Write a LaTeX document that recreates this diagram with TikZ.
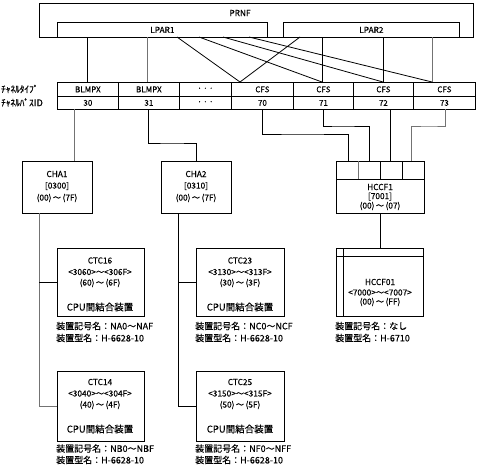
\documentclass[tikz,border=0pt]{standalone}
\usepackage{fontspec}
\setmainfont{Noto Sans CJK JP}[FakeBold=0.4]
\begin{document}
\begin{tikzpicture}[x=1pt,y=-1pt,
  ln/.style={line width=0.8pt},
  gln/.style={line width=0.8pt,draw=black!55},
  bx/.style={draw,line width=0.8pt,anchor=north west,inner sep=0pt},
  cell/.style={bx,minimum height=#1,font=\fontsize{8}{9}\selectfont},
  txt/.style={inner sep=0pt,font=\fontsize{8.3}{9}\selectfont},
  big/.style={inner sep=0pt,font=\fontsize{9.5}{10}\selectfont},
  lbl/.style={inner sep=0pt,anchor=west,font=\fontsize{9}{10}\selectfont},
  side/.style={inner sep=0pt,anchor=west,font=\fontsize{9.3}{10}\selectfont}]
\useasboundingbox (0,0) rectangle (479,472);

% PRNF and LPARs
\node[bx,minimum width=434pt,minimum height=34pt] (prnf) at (39,3) {};
\node[txt] (prnft) at (240,13) {PRNF};
\node[bx,minimum width=210pt,minimum height=15pt,font=\fontsize{8.3}{9}\selectfont] (lp1) at (57,22) {LPAR1};
\node[bx,minimum width=176pt,minimum height=15pt,font=\fontsize{8.3}{9}\selectfont] (lp2) at (283,22) {LPAR2};

% table
\node[side] (lt) at (1,89) {ﾁｬﾈﾙﾀｲﾌﾟ};
\node[side] (lp) at (1,102.5) {ﾁｬﾈﾙﾊﾟｽID};
\node[cell=14pt,minimum width=61pt] (t1) at (57,82) {BLMPX};
\node[cell=14pt,minimum width=61pt] (t2) at (118,82) {BLMPX};
\node[cell=14pt,minimum width=52pt] (t3) at (179,82) {·\,·\,·};
\node[cell=14pt,minimum width=62pt] (t4) at (231,82) {CFS};
\node[cell=14pt,minimum width=60pt] (t5) at (293,82) {CFS};
\node[cell=14pt,minimum width=60pt] (t6) at (353,82) {CFS};
\node[cell=14pt,minimum width=62pt] (t7) at (413,82) {CFS};
\node[cell=13pt,minimum width=61pt] (p1) at (57,96) {30};
\node[cell=13pt,minimum width=61pt] (p2) at (118,96) {31};
\node[cell=13pt,minimum width=52pt] (p3) at (179,96) {·\,·\,·};
\node[cell=13pt,minimum width=62pt] (p4) at (231,96) {70};
\node[cell=13pt,minimum width=60pt] (p5) at (293,96) {71};
\node[cell=13pt,minimum width=60pt] (p6) at (353,96) {72};
\node[cell=13pt,minimum width=62pt] (p7) at (413,96) {73};

% LPAR to table connectors
\coordinate (u1) at (87,37);  \coordinate (v1) at (87,82);
\coordinate (u2) at (147,37); \coordinate (v2) at (147,82);
\coordinate (u5) at (322,37); \coordinate (v5) at (322,82);
\coordinate (u6) at (383,37); \coordinate (v6) at (383,82);
\coordinate (u7) at (432,37); \coordinate (v7) at (432,82);
\coordinate (v4) at (240,82);
\coordinate (a1) at (177,37); \coordinate (a2) at (199,37);
\coordinate (a3) at (223,37); \coordinate (a4) at (249,37);
\coordinate (b1) at (300,37);
\draw[ln] (u1) -- (v1);
\draw[gln] (u2) -- (v2);
\draw[ln] (u5) -- (v5);
\draw[ln] (u6) -- (v6);
\draw[gln] (u7) -- (v7);
\draw[ln] (a1) -- (v4);
\draw[ln] (b1) -- (v4);
\draw[ln] (a2) -- (v5);
\draw[ln] (a3) -- (v6);
\draw[ln] (a4) -- (v7);

% CHA / HCCF boxes
\node[bx,minimum width=70pt,minimum height=52pt] (cha1) at (22,161) {};
\node[txt] (cha1a) at (57,174) {CHA1};
\node[txt] (cha1b) at (57,186) {[0300]};
\node[txt] (cha1c) at (57,198) {(00)\,～\,(7F)};
\node[bx,minimum width=70pt,minimum height=52pt] (cha2) at (161,161) {};
\node[txt] (cha2a) at (196,174) {CHA2};
\node[txt] (cha2b) at (196,186) {[0310]};
\node[txt] (cha2c) at (196,198) {(00)\,～\,(7F)};
\node[bx,minimum width=88pt,minimum height=52pt] (hc1) at (336,161) {};
\coordinate (hd1) at (336,179); \coordinate (hd2) at (424,179);
\draw[ln] (hd1) -- (hd2);
\coordinate (hv1a) at (358,161); \coordinate (hv1b) at (358,179);
\coordinate (hv2a) at (380,161); \coordinate (hv2b) at (380,179);
\coordinate (hv3a) at (402,161); \coordinate (hv3b) at (402,179);
\draw[gln] (hv1a) -- (hv1b);
\draw[ln] (hv2a) -- (hv2b);
\draw[ln] (hv3a) -- (hv3b);
\node[txt] (hc1a) at (380,187) {HCCF1};
\node[txt] (hc1b) at (380,196.5) {[7001]};
\node[txt] (hc1c) at (380,206) {(00)\,～\,(07)};

% table to CHA / HCCF connectors
\coordinate (w1) at (74,109);  \coordinate (x1) at (74,161);
\draw[gln] (w1) -- (x1);
\coordinate (w2) at (148,109); \coordinate (x2) at (196,161);
\draw[ln] (w2) |- (172,143) -| (x2);
\coordinate (w4) at (262,109); \coordinate (x4) at (348,161);
\draw[ln] (w4) |- (300,134) -| (x4);
\coordinate (w5) at (323,109); \coordinate (x5) at (369,161);
\draw[ln] (w5) |- (340,126) -| (x5);
\coordinate (w6) at (390,109); \coordinate (x6) at (390,161);
\draw[ln] (w6) -- (x6);
\coordinate (w7) at (445,109); \coordinate (x7) at (411,161);
\draw[gln] (w7) |- (430,126) -| (x7);

% CTC boxes
\node[bx,minimum width=87pt,minimum height=68pt] (c16) at (57,248) {};
\node[txt] (c16a) at (100,260.5) {CTC16};
\node[txt] (c16b) at (100,272) {<3060>～<306F>};
\node[txt] (c16c) at (100,283) {(60)\,～\,(6F)};
\node[big] (c16d) at (100,307) {CPU間結合装置};
\node[lbl] (c16e) at (56,326) {装置記号名：NA0～NAF};
\node[lbl] (c16f) at (56,338) {装置型名：H-6628-10};

\node[bx,minimum width=88pt,minimum height=68pt] (c23) at (196,248) {};
\node[txt] (c23a) at (240,260.5) {CTC23};
\node[txt] (c23b) at (240,272) {<3130>～<313F>};
\node[txt] (c23c) at (240,283) {(30)\,～\,(3F)};
\node[big] (c23d) at (240,307) {CPU間結合装置};
\node[lbl] (c23e) at (195,326) {装置記号名：NC0～NCF};
\node[lbl] (c23f) at (195,338) {装置型名：H-6628-10};

\node[bx,minimum width=87pt,minimum height=68pt] (h01) at (336,248) {};
\coordinate (hh1) at (336,256); \coordinate (hh2) at (423,256);
\draw[ln] (hh1) -- (hh2);
\coordinate (hk1) at (343,248); \coordinate (hk2) at (343,316);
\draw[ln] (hk1) -- (hk2);
\node[txt] (h01a) at (380,282) {HCCF01};
\node[txt] (h01b) at (380,292.5) {<7000>～<7007>};
\node[txt] (h01c) at (380,302) {(00)\,～\,(FF)};
\node[lbl] (h01e) at (335,326) {装置記号名：なし};
\node[lbl] (h01f) at (335,338) {装置型名：H-6710};

\node[bx,minimum width=87pt,minimum height=70pt] (c14) at (57,371) {};
\node[txt] (c14a) at (100,382) {CTC14};
\node[txt] (c14b) at (100,393.5) {<3040>～<304F>};
\node[txt] (c14c) at (100,405) {(40)\,～\,(4F)};
\node[big] (c14d) at (100,429) {CPU間結合装置};
\node[lbl] (c14e) at (56,448.5) {装置記号名：NB0～NBF};
\node[lbl] (c14f) at (56,460) {装置型名：H-6628-10};

\node[bx,minimum width=88pt,minimum height=70pt] (c25) at (196,371) {};
\node[txt] (c25a) at (240,382) {CTC25};
\node[txt] (c25b) at (240,393.5) {<3150>～<315F>};
\node[txt] (c25c) at (240,405) {(50)\,～\,(5F)};
\node[big] (c25d) at (240,429) {CPU間結合装置};
\node[lbl] (c25e) at (195,448.5) {装置記号名：NF0～NFF};
\node[lbl] (c25f) at (195,460) {装置型名：H-6628-10};

% CHA to CTC connectors
\coordinate (y1) at (39,213);
\draw[gln] (y1) |- (c14.west);
\draw[ln] (y1 |- c16.west) -- (c16.west);
\coordinate (y2) at (178,213);
\draw[ln] (y2) |- (c25.west);
\draw[ln] (y2 |- c23.west) -- (c23.west);
\draw[ln] (hc1.south -| h01a) -- (h01.north -| h01a);
\end{tikzpicture}
\end{document}
